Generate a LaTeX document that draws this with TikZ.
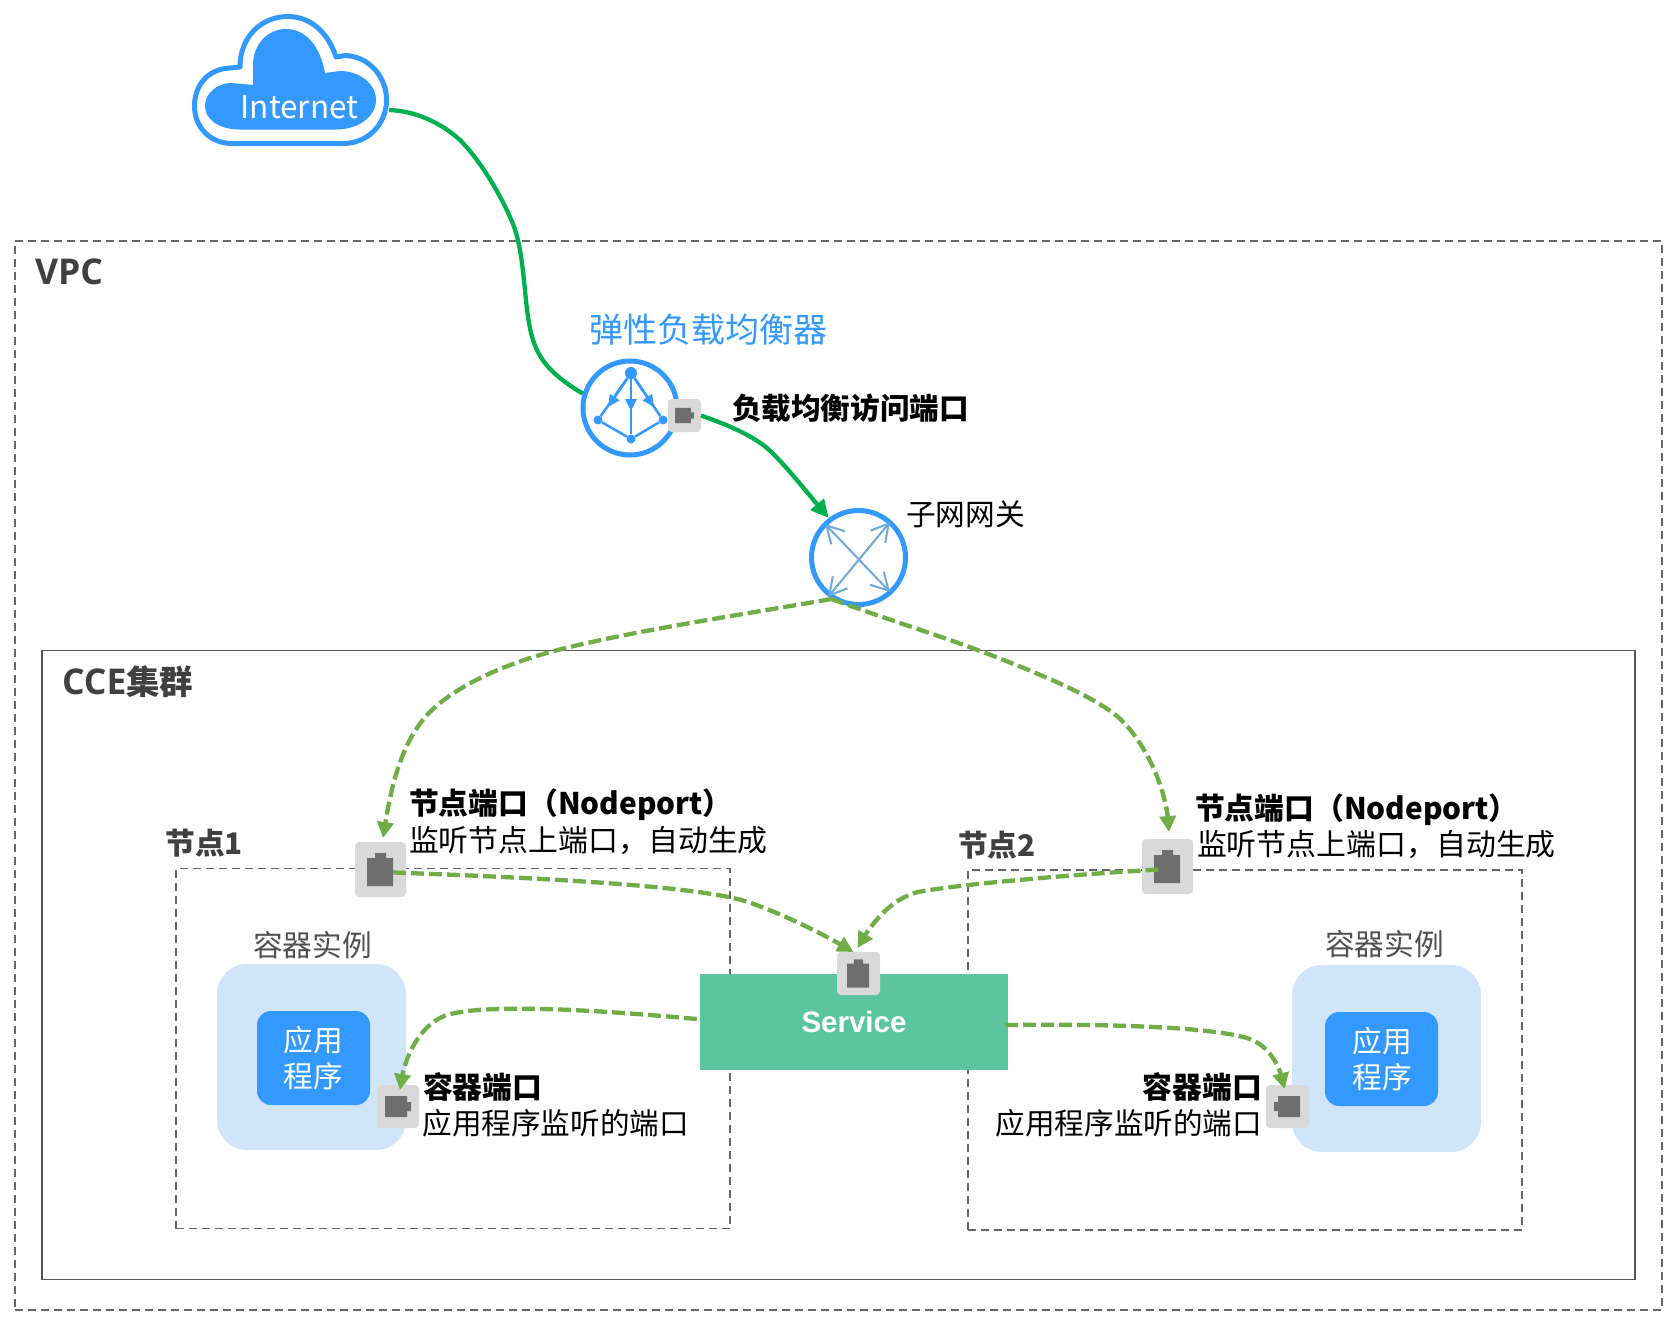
\documentclass[tikz,border=0pt]{standalone}
\usepackage{fontspec}
\setmainfont{Noto Sans CJK SC}
\newfontfamily\latinbold{Open Sans}
\newfontfamily\arialfont{Liberation Sans}
\usetikzlibrary{arrows.meta,bending}
\definecolor{hwblue}{HTML}{3399FF}
\definecolor{iconblue}{HTML}{6FA8DC}
\definecolor{linegreen}{HTML}{00B050}
\definecolor{dashgreen}{HTML}{70AD47}
\definecolor{boxgrey}{HTML}{666666}
\definecolor{frameline}{HTML}{555555}
\definecolor{portgrey}{HTML}{D9D9D9}
\definecolor{plugc}{HTML}{6E6E6E}
\definecolor{podblue}{HTML}{D0E5F9}
\definecolor{svcgreen}{HTML}{5BC5A0}
\definecolor{darktext}{HTML}{404040}
\definecolor{softtext}{HTML}{505050}
\tikzset{
  x=1pt,y=-1pt,
  dashbox/.style={draw=boxgrey,line width=1.5pt,dash pattern=on 8pt off 5pt},
  lbl/.style={inner sep=0pt,outer sep=0pt,anchor=west,font=\fontsize{29.7}{36}\selectfont,text=black,align=left},
  lblr/.style={lbl,anchor=east,align=right},
  lblc/.style={lbl,anchor=center,align=center},
  boldlbl/.style={lbl,font=\fontsize{29.8}{36}\selectfont\bfseries},
  titlelbl/.style={lbl,font=\fontsize{30}{36}\selectfont\bfseries,text=darktext},
  portbox/.style={fill=portgrey,rounded corners=4pt,inner sep=0pt,outer sep=0pt,rectangle},
  solidgreen/.style={draw=linegreen,line width=4.3pt},
  dashflow/.style={draw=dashgreen,line width=4.3pt,dash pattern=on 13pt off 5pt,-{Triangle[length=16pt,width=16pt,flex]}},
  plugv/.pic={\fill[plugc] (-13.5,-11.5) -- (-5.5,-11.5) -- (-5.5,-16.5) -- (5.5,-16.5) -- (5.5,-11.5) -- (12.5,-11.5) -- (12.5,16.5) -- (-13.5,16.5) -- cycle;},
  plugh/.pic={\fill[plugc] (-13,-10.5) -- (9,-10.5) -- (9,-4.5) -- (13,-4.5) -- (13,4.5) -- (9,4.5) -- (9,10.5) -- (-13,10.5) -- cycle;},
  icondot/.style={fill=hwblue,draw=none,circle,inner sep=0pt},
  iconline/.style={draw=hwblue,line width=2.5pt},
  iconarrow/.style={draw=hwblue,line width=2.5pt,-{Triangle[length=12pt,width=11pt]}},
  barb/.style={draw=iconblue,line width=2pt,{Straight Barb[length=17pt,width=19pt]}-{Straight Barb[length=17pt,width=19pt]}},
}
\begin{document}
\begin{tikzpicture}
\useasboundingbox[fill=white] (0,0) rectangle (1675,1322);

% frames
\node[dashbox,rectangle,minimum width=1647pt,minimum height=1069pt,inner sep=0pt] (vpc) at (838.5,775.5) {};
\node[draw=frameline,line width=1.8pt,rectangle,minimum width=1593pt,minimum height=629pt,inner sep=0pt] (cce) at (838.5,965) {};
\node[dashbox,rectangle,minimum width=554pt,minimum height=360pt,inner sep=0pt] (node1) at (453,1048.5) {};
\node[dashbox,rectangle,minimum width=554pt,minimum height=360pt,inner sep=0pt] (node2) at (1245,1050) {};

\node[titlelbl,font=\latinbold\fontsize{35.5}{40}\selectfont\bfseries] (vpct) at (35,271.5) {VPC};
\node[titlelbl,font=\fontsize{33.5}{40}\selectfont\bfseries] (ccet) at (62,682) {{\latinbold\fontsize{35.5}{40}\selectfont\bfseries CCE}集群};
\node[titlelbl,font=\fontsize{29.7}{36}\selectfont\bfseries] (n1t) at (165.5,843) {节点1};
\node[titlelbl,font=\fontsize{29.7}{36}\selectfont\bfseries] (n2t) at (958,845) {节点2};

% cloud
\node[inner sep=0pt,minimum width=198pt,minimum height=132pt] (cloud) at (290.5,80) {};
\draw[draw=hwblue,line width=5pt,line join=round]
  (232,143.5) -- (343,143.5) .. controls (368,143.5) and (386.5,124) .. (386.5,100)
  .. controls (386.5,76) and (368,56) .. (345,55.5) -- (336,57)
  .. controls (328,32) and (310,16.5) .. (288,16.5)
  .. controls (262,16.5) and (240,36) .. (240,67)
  -- (230,68) .. controls (208,69) and (194.5,85) .. (194.5,106)
  .. controls (194.5,127) and (210,143.5) .. (232,143.5) -- cycle;
\fill[hwblue]
  (240,129.5) -- (336,129.5) .. controls (358,129.5) and (376,117) .. (376,100)
  .. controls (376,84) and (360,71) .. (340,71) -- (325,73)
  .. controls (320,46) and (306,29) .. (286,29)
  .. controls (268,29) and (253,44) .. (253,65) -- (253,85) -- (232,83)
  .. controls (216,83) and (205,94) .. (205,106)
  .. controls (205,119) and (218,129.5) .. (240,129.5) -- cycle;
\node[inner sep=0pt,text=white,font=\fontsize{31.5}{36}\selectfont] (inet) at (299.5,107) {Internet};
\coordinate (cloudout) at (389,110);

% load balancer
\node[circle,draw=hwblue,line width=5pt,minimum size=94pt,inner sep=0pt,outer sep=2.5pt] (lb) at (630,408) {};
\node[icondot,minimum size=12pt] (lbtop) at (631,373) {};
\node[icondot,minimum size=9pt] (lbleft) at (598,420) {};
\node[icondot,minimum size=9pt] (lbright) at (663,420) {};
\node[icondot,minimum size=9pt] (lbbot) at (631,439) {};
\draw[iconline] (lbtop) -- (lbleft);
\draw[iconline] (lbtop) -- (lbright);
\draw[iconline] (lbtop) -- (lbbot);
\draw[iconline] (lbleft) -- (lbbot);
\draw[iconline] (lbright) -- (lbbot);
\coordinate (lbm1) at (608,407);
\coordinate (lbm2) at (631,411);
\coordinate (lbm3) at (654,407);
\draw[iconarrow] (lbtop) -- (lbm1);
\draw[iconarrow] (lbtop) -- (lbm2);
\draw[iconarrow] (lbtop) -- (lbm3);
\node[portbox,minimum width=33pt,minimum height=33pt] (lbport) at (684.5,415.5) {};
\pic[scale=.72] at (684.5,415.5) {plugh};
\node[lbl,text=hwblue,font=\fontsize{34}{40}\selectfont] (lbt) at (589,330) {弹性负载均衡器};
\node[boldlbl,font=\fontsize{29.6}{36}\selectfont\bfseries] (lbpt) at (732,408) {负载均衡访问端口};

% subnet gateway
\node[circle,draw=hwblue,line width=5pt,minimum size=94pt,inner sep=0pt,outer sep=2.5pt] (subnet) at (858.5,557.5) {};
\coordinate (sg1) at (825,524);
\coordinate (sg2) at (890,592);
\coordinate (sg3) at (890,522);
\coordinate (sg4) at (828,597);
\draw[barb] (sg1) -- (sg2);
\draw[barb] (sg3) -- (sg4);
\node[lbl] (subt) at (906,514) {子网网关};

% pods
\node[fill=podblue,rounded corners=30pt,minimum width=189pt,minimum height=186pt,inner sep=0pt] (pod1) at (311.5,1057) {};
\node[fill=podblue,rounded corners=30pt,minimum width=189pt,minimum height=187pt,inner sep=0pt] (pod2) at (1386.5,1058.5) {};
\node[fill=hwblue,rounded corners=14pt,minimum width=113pt,minimum height=94pt,inner sep=0pt] (app1) at (313.5,1058) {};
\node[fill=hwblue,rounded corners=14pt,minimum width=113pt,minimum height=94pt,inner sep=0pt] (app2) at (1381.5,1059) {};
\node[lblc,text=white] (app1t) at (313,1040) {应用};
\node[lblc,text=white] (app1b) at (313,1076) {程序};
\node[lblc,text=white] (app2t) at (1382,1041) {应用};
\node[lblc,text=white] (app2b) at (1382,1077) {程序};
\node[lbl,text=softtext] (pod1t) at (253,945) {容器实例};
\node[lbl,text=softtext] (pod2t) at (1325,944) {容器实例};

% service
\node[fill=svcgreen,rectangle,minimum width=308pt,minimum height=96pt,inner sep=0pt] (service) at (854,1022) {};
\node[inner sep=0pt,text=white,font=\arialfont\fontsize{29.5}{36}\selectfont\bfseries] (svct) at (854,1022) {Service};

% ports
\node[portbox,minimum width=51pt,minimum height=55pt] (port1) at (380.5,869.5) {};
\pic at (380.5,869.5) {plugv};
\node[portbox,minimum width=51pt,minimum height=55pt] (port2) at (1167.5,866.5) {};
\pic at (1167.5,866.5) {plugv};
\node[portbox,minimum width=43pt,minimum height=43pt] (svcport) at (858.5,973.5) {};
\pic[scale=.85] at (858.5,973.5) {plugv};
\node[portbox,minimum width=42pt,minimum height=43pt] (cport1) at (398,1106.5) {};
\pic at (398,1106.5) {plugh};
\node[portbox,minimum width=43pt,minimum height=43pt] (cport2) at (1287.5,1106.5) {};
\pic[xscale=-1] at (1287,1106.5) {plugh};

% labels
\node[boldlbl] (p1a) at (409,805) {节点端口（Nodeport）};
\node[lbl,font=\fontsize{29.9}{36}\selectfont] (p1b) at (409,841) {监听节点上端口，自动生成};
\node[boldlbl] (p2a) at (1195,810) {节点端口（Nodeport）};
\node[lbl,font=\fontsize{29.9}{36}\selectfont] (p2b) at (1197,845) {监听节点上端口，自动生成};
\node[boldlbl] (c1a) at (423,1087) {容器端口};
\node[lbl,font=\fontsize{29.6}{36}\selectfont] (c1b) at (422.5,1123) {应用程序监听的端口};
\node[lblr,font=\fontsize{29.8}{36}\selectfont\bfseries] (c2a) at (1262,1087) {容器端口};
\node[lblr,font=\fontsize{29.6}{36}\selectfont] (c2b) at (1262,1123) {应用程序监听的端口};

% connectors
\coordinate (a1) at (460,140);
\coordinate (a2) at (510,217);
\coordinate (a3) at (525,290);
\draw[solidgreen] (cloudout) .. controls (415,111) and (440,122) .. (a1)
  .. controls (478,158) and (497,188) .. (a2)
  .. controls (520,238) and (522,262) .. (a3)
  .. controls (530,345) and (535,365) .. (lb.163);
\coordinate (w2) at (767,448);
\draw[solidgreen,-{Triangle[length=18pt,width=17pt,flex]}] (lbport.east) .. controls (725,424) and (750,434) .. (w2)
  .. controls (785,464) and (808,494) .. (subnet.127);

\coordinate (b1) at (570,647);
\coordinate (b2) at (427,715);
\draw[dashflow] (subnet.237) .. controls (745,614) and (640,630) .. (b1)
  .. controls (510,661) and (455,685) .. (b2)
  .. controls (400,745) and (390,790) .. ([xshift=2.5pt,yshift=4pt]port1.north);
\coordinate (c1) at (983,652);
\coordinate (c2) at (1113,713);
\draw[dashflow] (subnet.237) .. controls (880,617) and (935,634) .. (c1)
  .. controls (1030,670) and (1085,692) .. (c2)
  .. controls (1140,733) and (1168,785) .. ([xshift=1.5pt,yshift=7pt]port2.north);
\coordinate (w5) at (748,902);
\draw[dashflow] ([xshift=12.5pt,yshift=-3pt]port1.center) .. controls (520,877) and (698,885) .. (w5)
  .. controls (788,916) and (825,935) .. ([xshift=-5pt]svcport.north);
\coordinate (w6) at (918,892);
\draw[dashflow] ([xshift=-9pt,yshift=-3pt]port2.center) .. controls (1080,874) and (960,884) .. (w6)
  .. controls (890,899) and (870,925) .. ([xshift=-1pt,yshift=4pt]svcport.north);
\coordinate (w7) at (447,1015);
\draw[dashflow] ([xshift=-3pt,yshift=3pt]service.west) .. controls (620,1012) and (490,1002) .. (w7)
  .. controls (425,1022) and (404,1050) .. ([xshift=2pt,yshift=-5pt]cport1.north);
\coordinate (w8) at (1247,1038);
\draw[dashflow] ([xshift=-3pt,yshift=-3pt]service.east) .. controls (1100,1024) and (1205,1026) .. (w8)
  .. controls (1264,1043) and (1280,1060) .. ([xshift=-3pt,yshift=-4pt]cport2.north);
\end{tikzpicture}
\end{document}
